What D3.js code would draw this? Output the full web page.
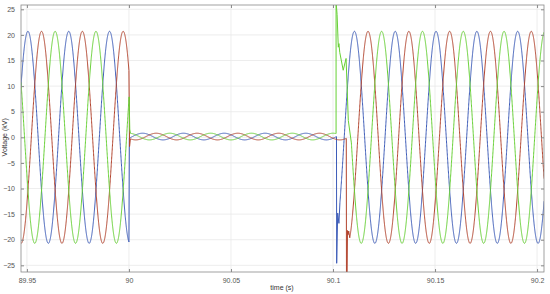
<!DOCTYPE html>
<html>
<head>
<meta charset="utf-8">
<script src="https://cdn.jsdelivr.net/npm/d3@7"></script>
<style>
  html, body { margin: 0; padding: 0; background: #fff; }
  svg { display: block; font-family: "Liberation Sans", Arial, sans-serif; }
</style>
</head>
<body>
<script>
// axis ticks
var xTicks = [89.95, 90, 90.05, 90.1, 90.15, 90.2];
var yTicks = [-25, -20, -15, -10, -5, 0, 5, 10, 15, 20, 25];
var xDomain = [89.9471, 90.2034];
var yDomain = [-26.3, 25.84];

// three phases (blue, red, green)
var phaseNames = ['Va', 'Vb', 'Vc'];
var freqHz = 50;
var phaseLagDeg = [0, 120, 240];
var steadyAmplitude = 20.7;      // kV peak, line energised
var steadyPeakTime = 89.9505;    // first positive peak of Va
var openAmplitude = 0.65;        // kV, line open
var openOffset = 0.15;
var openPeakTime = 90.0867;
var tripTime = 90.0;

// per phase: start / end of the open part, restart of steady part
var openStart = [90.0002, 90.0007, 90.0007];
var openEnd = [90.1017, 90.1065, 90.1015];
var closeStart = [90.1034, 90.1082, 90.1090];

// transients [time, kV]
var tripPoints = [
  [],
  [[90.0003, -1.8]],
  [[90.0001, 7.9], [90.0004, 1.6]]
];
var closePoints = [
  [[90.1018, -24.6], [90.1023, -14.8], [90.1029, -16.8]],
  [[90.1066, -27.5], [90.1069, -27.5], [90.1071, -18.2], [90.1074, -19.0], [90.1077, -18.3]],
  [[90.1015, 26.5], [90.1020, 24.0], [90.1026, 17.6], [90.1029, 18.3], [90.1033, 16.6],
   [90.1050, 13.1], [90.1064, 15.4], [90.1075, 3.3]]
];

var colors = ['#3d5cb8', '#b2432d', '#66d034'];

var width = 550, height = 294;
var margin = {left: 21, right: 6, top: 5, bottom: 22};

var x = d3.scaleLinear().domain(xDomain).range([margin.left, width - margin.right]);
var y = d3.scaleLinear().domain(yDomain).range([height - margin.bottom, margin.top]);

function wave(t, amp, peakT, lag, offset) {
  return offset + amp * Math.cos(2 * Math.PI * freqHz * (t - peakT) - lag * Math.PI / 180);
}

// build one phase
function buildPhase(i) {
  var step = 0.00004;
  var pts = [];
  d3.range(xDomain[0], tripTime, step).concat([tripTime]).forEach(function(t) {
    pts.push([t, wave(t, steadyAmplitude, steadyPeakTime, phaseLagDeg[i], 0)]);
  });
  pts = pts.concat(tripPoints[i]);
  d3.range(openStart[i], openEnd[i], step).concat([openEnd[i]]).forEach(function(t) {
    pts.push([t, wave(t, openAmplitude, openPeakTime, phaseLagDeg[i], openOffset)]);
  });
  pts = pts.concat(closePoints[i]);
  d3.range(closeStart[i], xDomain[1] + step, step).forEach(function(t) {
    pts.push([t, wave(t, steadyAmplitude, steadyPeakTime, phaseLagDeg[i], 0)]);
  });
  return pts;
}

var svg = d3.select('body').append('svg')
  .attr('width', width)
  .attr('height', height);

var plotW = width - margin.left - margin.right;
var plotH = height - margin.top - margin.bottom;

svg.append('defs').append('clipPath').attr('id', 'clip')
  .append('rect')
  .attr('x', margin.left).attr('y', margin.top)
  .attr('width', plotW).attr('height', plotH);

// grid
var grid = svg.append('g').attr('stroke', '#e8e8e8').attr('stroke-width', 0.8);
grid.selectAll('line.gx').data(xTicks).enter().append('line')
  .attr('x1', function(d) { return x(d); }).attr('x2', function(d) { return x(d); })
  .attr('y1', margin.top).attr('y2', height - margin.bottom);
grid.selectAll('line.gy').data(yTicks).enter().append('line')
  .attr('y1', function(d) { return y(d); }).attr('y2', function(d) { return y(d); })
  .attr('x1', margin.left).attr('x2', width - margin.right);

// waveforms
var line = d3.line()
  .x(function(d) { return x(d[0]); })
  .y(function(d) { return y(d[1]); });

svg.append('g')
  .attr('clip-path', 'url(#clip)')
  .selectAll('path')
  .data(phaseNames.map(function(n, i) { return buildPhase(i); }))
  .enter()
  .append('path')
  .attr('fill', 'none')
  .attr('stroke', function(d, i) { return colors[i]; })
  .attr('stroke-width', 1)
  .attr('d', line);

// axes, ticks inside, mirrored on top/right
var axisColor = '#8a8a8a';
function styleAxis(g) {
  g.select('.domain').remove();
  g.selectAll('.tick line').attr('stroke', axisColor);
  g.selectAll('.tick text').attr('fill', '#555').style('font-size', '7px');
}

svg.append('g')
  .attr('transform', 'translate(0,' + (height - margin.bottom) + ')')
  .call(d3.axisBottom(x).tickValues(xTicks).tickFormat(d3.format('')).tickSizeInner(-3).tickPadding(6))
  .call(styleAxis);
svg.append('g')
  .attr('transform', 'translate(0,' + margin.top + ')')
  .call(d3.axisTop(x).tickValues(xTicks).tickSizeInner(-3).tickFormat(''))
  .call(styleAxis);
svg.append('g')
  .attr('transform', 'translate(' + margin.left + ',0)')
  .call(d3.axisLeft(y).tickValues(yTicks).tickSizeInner(-3).tickPadding(6))
  .call(styleAxis);
svg.append('g')
  .attr('transform', 'translate(' + (width - margin.right) + ',0)')
  .call(d3.axisRight(y).tickValues(yTicks).tickSizeInner(-3).tickFormat(''))
  .call(styleAxis);

svg.append('rect')
  .attr('x', margin.left).attr('y', margin.top)
  .attr('width', plotW).attr('height', plotH)
  .attr('fill', 'none')
  .attr('stroke', axisColor)
  .attr('stroke-width', 0.8);

// axis labels
svg.append('text')
  .attr('x', x(90.075))
  .attr('y', 289.5)
  .attr('text-anchor', 'middle')
  .style('font-size', '7px')
  .attr('fill', '#333')
  .text('time (s)');

svg.append('text')
  .attr('transform', 'translate(7,' + y(0) + ') rotate(-90)')
  .attr('text-anchor', 'middle')
  .style('font-size', '7px')
  .attr('fill', '#333')
  .text('Voltage (kV)');
</script>
</body>
</html>
